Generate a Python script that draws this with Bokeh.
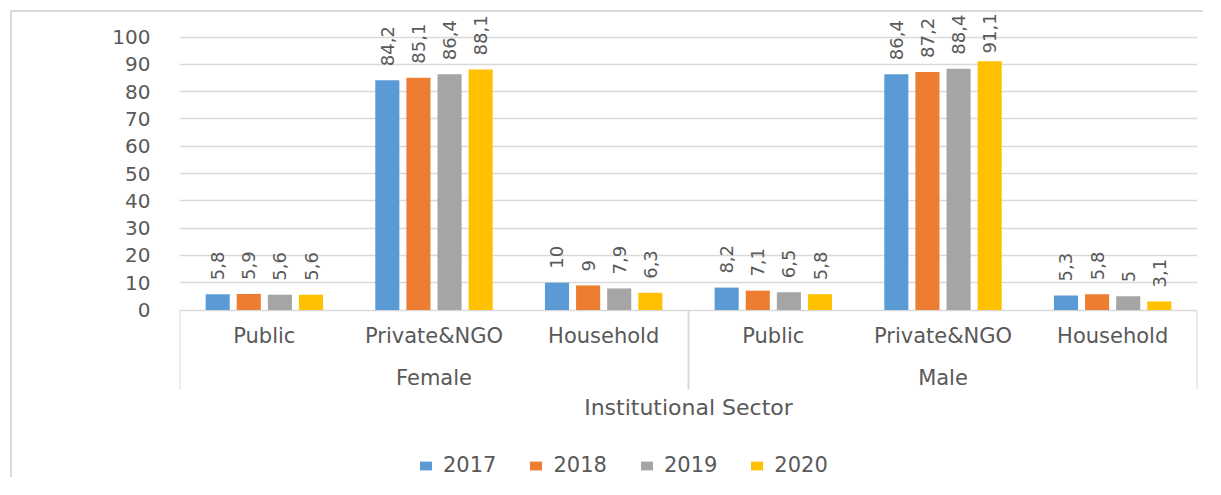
import math
from bokeh.plotting import figure
from bokeh.layouts import column
from bokeh.models import (FactorRange, ColumnDataSource, FixedTicker, Legend,
                          LegendItem, Label, Range1d)
from bokeh.transform import dodge
from bokeh.core.properties import value
from bokeh.embed import file_html
from bokeh.resources import INLINE

# ---------------- data ----------------
genders = ["Female", "Male"]
sectors = ["Public", "Private&NGO", "Household"]
years = ["2017", "2018", "2019", "2020"]
vals_2017 = [5.8, 84.2, 10, 8.2, 86.4, 5.3]
vals_2018 = [5.9, 85.1, 9, 7.1, 87.2, 5.8]
vals_2019 = [5.6, 86.4, 7.9, 6.5, 88.4, 5]
vals_2020 = [5.6, 88.1, 6.3, 5.8, 91.1, 3.1]
y_ticks = [0, 10, 20, 30, 40, 50, 60, 70, 80, 90, 100]
x_title = "Institutional Sector"
y_title = "Percentage"

# ---------------- style ----------------
colors = ["#5B9BD5", "#ED7D31", "#A5A5A5", "#FFC000"]
FONT = "DejaVu Sans"
TXT = "#595959"
LINE = "#d9d9d9"

OFF = 12                    # canvas origin in picture px (10px gap + 2px chart border)
FL, FR, FT, FB = 179, 1197, 14, 479   # frame edges in picture px
W, H = 1205 - OFF, FB - OFF
Y0, Y100 = 309.5, 36.5      # picture px of value 0 and 100
ppu = (Y0 - Y100) / 100.0


def yv(py):
    return (Y0 - py) / ppu


def fmt(v):
    return (str(int(v)) if float(v).is_integer() else str(v)).replace(".", ",")


factors = [(g, s) for g in genders for s in sectors]
series = [vals_2017, vals_2018, vals_2019, vals_2020]

label_gap = 14 / ppu
label_cap = yv(53)
data = dict(x=factors)
for yr, vals in zip(years, series):
    data["v" + yr] = vals
    data["l" + yr] = [fmt(v) for v in vals]
    data["p" + yr] = [min(v + label_gap, label_cap) for v in vals]
src = ColumnDataSource(data)

x_range = FactorRange(*factors, range_padding=0, group_padding=0, factor_padding=0)
p = figure(x_range=x_range, y_range=Range1d(yv(FB), yv(FT)),
           width=W, height=H, output_backend="svg", toolbar_location=None,
           x_axis_location=None,
           min_border_left=FL - OFF, min_border_right=W - (FR - OFF),
           min_border_top=FT - OFF, min_border_bottom=0)
p.outline_line_color = None
p.background_fill_color = "white"
p.border_fill_color = "white"
p.styles = {"border-left": "2px solid #d9d9d9", "border-top": "2px solid #d9d9d9"}

ax = p.yaxis[0]
ax.ticker = FixedTicker(ticks=y_ticks)
ax.axis_line_color = None
ax.major_tick_line_color = None
ax.minor_tick_line_color = None
ax.major_tick_out = 0
ax.major_tick_in = 0
ax.major_label_standoff = 29
ax.major_label_text_font = FONT
ax.major_label_text_font_size = "20px"
ax.major_label_text_color = TXT
p.ygrid.grid_line_color = LINE
p.ygrid.grid_line_width = 1.5
p.xgrid.visible = False

pitch = 0.1834
bw = 0.142
renderers = []
for i, yr in enumerate(years):
    off = (i - 1.5) * pitch
    r = p.vbar(x=dodge("x", off, range=x_range), top="v" + yr, width=bw,
               source=src, fill_color=colors[i], line_color=None)
    renderers.append(r)
    p.text(x=dodge("x", off, range=x_range), y="p" + yr, text="l" + yr,
           source=src, angle=math.pi / 2, text_align="left",
           text_baseline="middle",
           text_font=value(FONT), text_font_size="18px", text_color=TXT)

# category axis (Excel-style multi-level)
nb = len(sectors)
bounds = [i * nb for i in range(len(genders) + 1)]
p.segment(x0=bounds, x1=bounds, y0=[0] * len(bounds), y1=[yv(389)] * len(bounds),
          line_color=LINE, line_width=2)
p.text(x=factors, y=[yv(335)] * len(factors), text=[s for _, s in factors],
       text_align="center", text_baseline="middle",
       text_font=value(FONT), text_font_size="21px", text_color=TXT)
p.text(x=genders, y=[yv(377)] * len(genders), text=genders,
       text_align="center", text_baseline="middle",
       text_font=value(FONT), text_font_size="21px", text_color=TXT)
p.text(x=[len(factors) / 2], y=[yv(407)], text=[x_title],
       text_align="center", text_baseline="middle",
       text_font=value(FONT), text_font_size="22px", text_color=TXT)

p.add_layout(Label(x=76 - FL, y=50, x_units="screen", y_units="data",
                   text=y_title, angle=math.pi / 2, text_align="center",
                   text_baseline="middle", text_font=FONT,
                   text_font_size="20px", text_color=TXT))

legend = Legend(items=[LegendItem(label=yr, renderers=[r]) for yr, r in zip(years, renderers)],
                orientation="horizontal", location=(418 - FL, FB - 477),
                padding=0, margin=0, border_line_color=None,
                background_fill_alpha=0, glyph_width=15, glyph_height=11,
                label_standoff=10, spacing=32, label_text_font=FONT,
                label_text_font_size="21px", label_text_color=TXT)
p.add_layout(legend)

page = column(p, styles={"padding-left": "10px", "padding-top": "10px"})

open("out.html", "w").write(file_html(page, INLINE))
